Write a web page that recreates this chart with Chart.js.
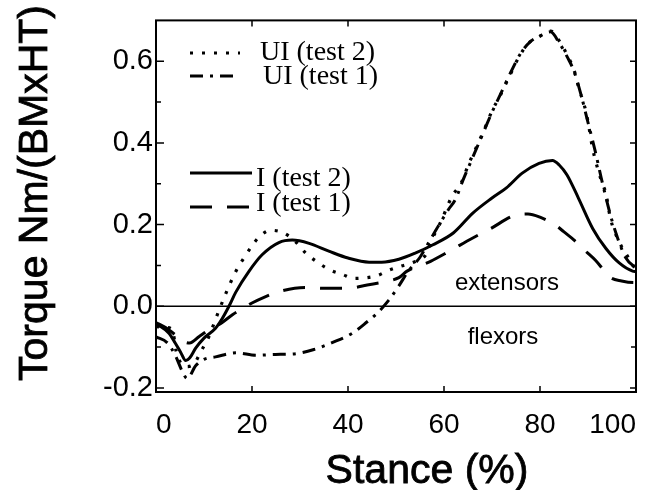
<!DOCTYPE html>
<html>
<head>
<meta charset="utf-8">
<script src="https://cdn.jsdelivr.net/npm/chart.js@4.4.0/dist/chart.umd.min.js"></script>
<style>
  body { margin: 0; background: #fff; }
  .wrap { width: 652px; height: 490px; position: relative; }
</style>
</head>
<body>
<div class="wrap"><canvas id="chart"></canvas></div>
<script>
// values: stance (%) -> torque Nm/(BMxHT)
const uiTest2X = [0, 2, 3.4, 4.2, 5.2, 6.5, 8, 9.3, 11, 12.6, 14.5, 16.7, 18.2, 20, 21.5, 23.9, 26.5, 28.9, 31.2, 33.6, 36.4, 38.8, 41.3, 44, 46.1, 48.5, 51, 54.1, 56.2, 57.6, 59.3, 61.7, 63.5, 65.2, 66.6, 68.3, 70, 71.8, 73.5, 75.6, 77.4, 79.8, 82.2, 84.6, 85.7, 87.1, 88.1, 89.5, 90.2, 90.9, 91.9, 93, 93.7, 94.7, 96.5, 98.9, 100];
const uiTest2Y = [-0.05, -0.052, -0.057, -0.11, -0.14, -0.148, -0.14, -0.112, -0.075, -0.026, 0.03, 0.087, 0.116, 0.148, 0.17, 0.186, 0.18, 0.16, 0.13, 0.108, 0.088, 0.078, 0.068, 0.07, 0.075, 0.088, 0.098, 0.11, 0.126, 0.166, 0.206, 0.27, 0.3, 0.35, 0.386, 0.43, 0.478, 0.518, 0.56, 0.61, 0.642, 0.66, 0.674, 0.638, 0.614, 0.578, 0.534, 0.48, 0.438, 0.39, 0.342, 0.3, 0.278, 0.214, 0.158, 0.11, 0.088];

const uiTest1X = [0, 2.4, 4, 5.5, 6.5, 8.3, 10, 12.4, 16.8, 20.8, 24.9, 28.4, 32.9, 36.7, 40.9, 44, 46, 48.5, 50.6, 52.5, 55, 57, 59, 61, 62.4, 64, 66, 68, 70, 72, 74, 76, 78, 80, 82.2, 84, 85.7, 87.1, 88.5, 90, 91.5, 93, 95.1, 97.9, 100];
const uiTest1Y = [-0.075, -0.09, -0.12, -0.16, -0.177, -0.145, -0.13, -0.124, -0.114, -0.12, -0.118, -0.117, -0.106, -0.089, -0.066, -0.038, -0.018, 0.015, 0.05, 0.085, 0.12, 0.16, 0.2, 0.238, 0.262, 0.31, 0.365, 0.42, 0.475, 0.525, 0.575, 0.62, 0.648, 0.662, 0.672, 0.645, 0.61, 0.575, 0.52, 0.45, 0.38, 0.302, 0.206, 0.118, 0.094];

const iTest2X = [0, 1, 2.7, 4, 5.1, 6.2, 7, 8.3, 10, 12.4, 13.8, 15.2, 16.6, 19.4, 22.1, 25.6, 28.4, 31.9, 36, 40, 44.4, 47, 50.6, 54, 57.6, 62, 66, 70, 73, 76.3, 79.8, 82.6, 84, 85.6, 88, 91, 93.7, 96.5, 99.3, 100];
const iTest2Y = [-0.045, -0.05, -0.066, -0.09, -0.112, -0.133, -0.127, -0.102, -0.078, -0.054, -0.03, 0.0, 0.034, 0.086, 0.126, 0.156, 0.162, 0.154, 0.135, 0.118, 0.108, 0.108, 0.115, 0.13, 0.15, 0.18, 0.228, 0.265, 0.29, 0.326, 0.35, 0.357, 0.346, 0.322, 0.265, 0.19, 0.142, 0.106, 0.086, 0.085];

const iTest1X = [0, 2, 4, 5.5, 7, 9, 11, 13.5, 16, 18, 20, 22.5, 26.3, 31.2, 35, 40, 44, 48.5, 50.6, 52.3, 57.2, 61, 65.8, 69.7, 74.6, 77.5, 80, 83.3, 85, 87.1, 89.5, 91.6, 93.5, 94.7, 97, 99.6, 100];
const iTest1Y = [-0.04, -0.052, -0.07, -0.085, -0.09, -0.074, -0.058, -0.042, -0.02, -0.006, 0.008, 0.022, 0.038, 0.046, 0.044, 0.044, 0.052, 0.062, 0.07, 0.086, 0.11, 0.134, 0.166, 0.19, 0.222, 0.226, 0.218, 0.198, 0.182, 0.162, 0.135, 0.112, 0.085, 0.07, 0.062, 0.058, 0.058];

const xTicks = [0, 20, 40, 60, 80, 100];
const yTicks = [-0.2, 0.0, 0.2, 0.4, 0.6];
const yMinorTicks = [-0.1, 0.1, 0.3, 0.5];
const seriesLabels = ["UI (test 2)", "UI (test 1)", "I (test 2)", "I (test 1)"];
const regionLabels = ["extensors", "flexors"];

const sans = 'Arial, "Liberation Sans", sans-serif';
const serif = '"Times New Roman", "Liberation Serif", serif';

function toPoints(xs, ys) {
  return xs.map((x, i) => ({ x: x, y: ys[i] }));
}

// frame, inward ticks, zero line, legend and the text labels
const decorPlugin = {
  id: "decor",
  afterDatasetsDraw(chart) {
    const ctx = chart.ctx;
    const a = chart.chartArea;
    const x = chart.scales.x;
    const y = chart.scales.y;
    ctx.save();
    ctx.strokeStyle = "#000";
    ctx.setLineDash([]);

    // zero line
    const y0 = y.getPixelForValue(0);
    ctx.lineWidth = 1.5;
    ctx.beginPath();
    ctx.moveTo(a.left, y0);
    ctx.lineTo(a.right, y0);
    ctx.stroke();

    // box
    ctx.lineWidth = 2;
    ctx.strokeRect(a.left, a.top, a.right - a.left, a.bottom - a.top);

    // tick marks pointing in
    ctx.lineWidth = 1.5;
    ctx.beginPath();
    xTicks.slice(1, -1).forEach(v => {
      const px = x.getPixelForValue(v);
      ctx.moveTo(px, a.bottom); ctx.lineTo(px, a.bottom - 6);
      ctx.moveTo(px, a.top); ctx.lineTo(px, a.top + 6);
    });
    yTicks.forEach(v => {
      const py = y.getPixelForValue(v);
      ctx.moveTo(a.left, py); ctx.lineTo(a.left + 8, py);
      ctx.moveTo(a.right, py); ctx.lineTo(a.right - 6, py);
    });
    yMinorTicks.forEach(v => {
      const py = y.getPixelForValue(v);
      ctx.moveTo(a.left, py); ctx.lineTo(a.left + 5, py);
      ctx.moveTo(a.right, py); ctx.lineTo(a.right - 5, py);
    });
    ctx.stroke();

    // legend, two groups
    const spots = [
      { x1: 190, x2: 240, ly: 53, tx: 260, ty: 53 },
      { x1: 190, x2: 240, ly: 76, tx: 263, ty: 77 },
      { x1: 190, x2: 252, ly: 173, tx: 256, ty: 179 },
      { x1: 190, x2: 252, ly: 207, tx: 256, ty: 204 }
    ];
    chart.data.datasets.forEach((ds, i) => {
      const s = spots[i];
      ctx.lineWidth = ds.borderWidth;
      ctx.setLineDash(ds.borderDash || []);
      ctx.beginPath();
      ctx.moveTo(s.x1, s.ly);
      ctx.lineTo(s.x2, s.ly);
      ctx.stroke();
      ctx.setLineDash([]);
      ctx.fillStyle = "#000";
      ctx.font = "28px " + serif;
      ctx.textAlign = "left";
      ctx.textBaseline = "middle";
      ctx.fillText(ds.label, s.tx, s.ty);
    });

    // region labels
    ctx.font = "24px " + sans;
    ctx.textAlign = "center";
    ctx.textBaseline = "middle";
    ctx.fillText(regionLabels[0], 507, 283);
    ctx.fillText(regionLabels[1], 503, 337);

    // axis titles, a thin stroke to get the heavier printed look
    ctx.font = "41px " + sans;
    ctx.textBaseline = "alphabetic";
    ctx.lineWidth = 0.8;
    ctx.fillText("Stance (%)", 427, 483);
    ctx.strokeText("Stance (%)", 427, 483);
    ctx.save();
    ctx.translate(47, 193);
    ctx.rotate(-Math.PI / 2);
    ctx.fillText("Torque Nm/(BMxHT)", 0, 0);
    ctx.strokeText("Torque Nm/(BMxHT)", 0, 0);
    ctx.restore();

    ctx.restore();
  }
};

new Chart(document.getElementById("chart"), {
  type: "line",
  data: {
    datasets: [
      { label: seriesLabels[0], data: toPoints(uiTest2X, uiTest2Y), borderColor: "#000", borderWidth: 3.2, borderDash: [3, 9] },
      { label: seriesLabels[1], data: toPoints(uiTest1X, uiTest1Y), borderColor: "#000", borderWidth: 3, borderDash: [13, 7, 3, 7] },
      { label: seriesLabels[2], data: toPoints(iTest2X, iTest2Y), borderColor: "#000", borderWidth: 3 },
      { label: seriesLabels[3], data: toPoints(iTest1X, iTest1Y), borderColor: "#000", borderWidth: 3, borderDash: [22, 15] }
    ]
  },
  options: {
    responsive: true,
    maintainAspectRatio: false,
    animation: false,
    layout: { padding: { left: 0, right: 15, top: 13, bottom: 0 } },
    elements: {
      point: { radius: 0 },
      line: { cubicInterpolationMode: "monotone", fill: false }
    },
    plugins: {
      legend: { display: false },
      tooltip: { enabled: false }
    },
    scales: {
      x: {
        type: "linear",
        min: 0,
        max: 100,
        grid: { display: false, drawTicks: false },
        border: { display: false },
        afterBuildTicks: s => { s.ticks = xTicks.map(v => ({ value: v })); },
        afterFit: s => { s.height = 98; },
        ticks: {
          align: "inner",
          padding: 16,
          color: "#000",
          font: { family: sans, size: 28 }
        }
      },
      y: {
        min: -0.21,
        max: 0.70,
        grid: { display: false, drawTicks: false },
        border: { display: false },
        afterBuildTicks: s => { s.ticks = yTicks.map(v => ({ value: v })); },
        afterFit: s => { s.width = 156; },
        ticks: {
          padding: 3,
          color: "#000",
          font: { family: sans, size: 29 },
          callback: v => v.toFixed(1)
        }
      }
    }
  },
  plugins: [decorPlugin]
});
</script>
</body>
</html>
